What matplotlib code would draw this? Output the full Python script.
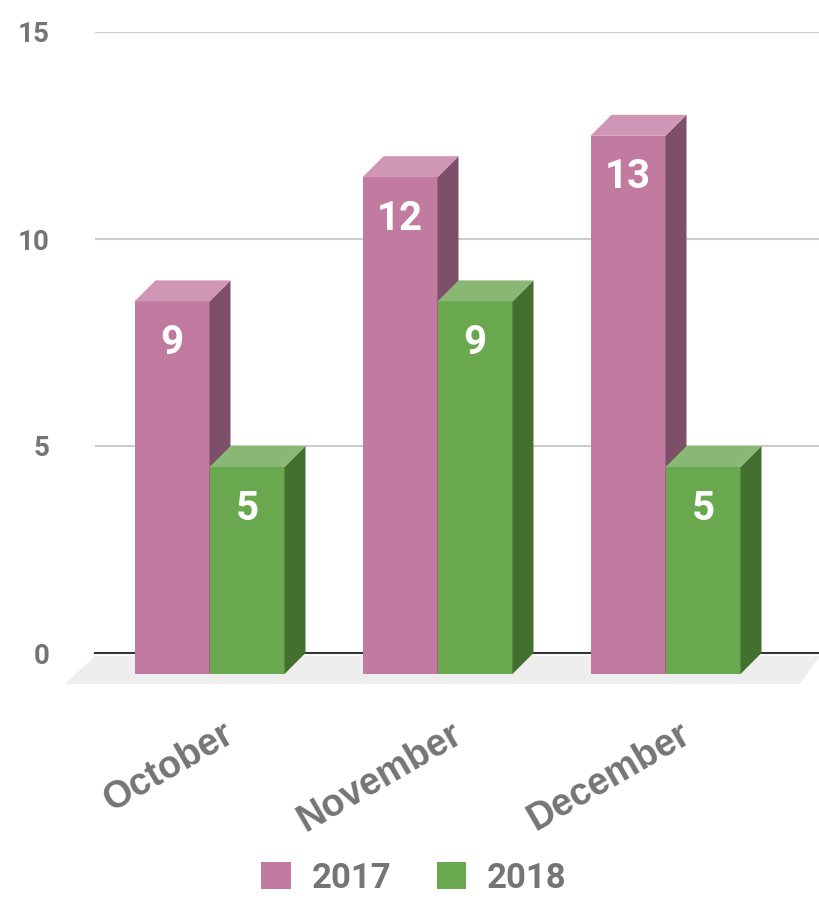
import matplotlib
matplotlib.use("Agg")
import matplotlib.pyplot as plt
from matplotlib.patches import Polygon, Patch

# ===============================
# Data
# ===============================
months = ["October", "November", "December"]
series = ["2017", "2018"]
values_2017 = [9, 12, 13]
values_2018 = [5, 9, 5]
y_ticks = [0, 5, 10, 15]

# ===============================
# Style
# ===============================
front = {"2017": "#C27BA0", "2018": "#6AA84F"}
top = {"2017": "#D096B5", "2018": "#89B875"}
side = {"2017": "#7D4F68", "2018": "#44702F"}
GRAY = "#757575"

W, H = 819, 900
PX_X = 228.0          # pixels per category
PX_Y = 41.4           # pixels per unit
BAR_W = 75 / PX_X
DX = 21 / PX_X        # depth offset (x, data units)
DY = 21 / PX_Y        # depth offset (y, data units)

fig = plt.figure(figsize=(W / 100, H / 100), dpi=100)
ax = fig.add_axes([95 / W, 1 - 653 / H, 725 / W, (653 - 32) / H])
# front face centre of group i sits at 209.5 + 228*i px
ax.set_xlim((95 - 209.5) / PX_X, (820 - 209.5) / PX_X)
ax.set_ylim(0, 15)

for s in ax.spines.values():
    s.set_visible(False)
ax.set_xticks([])
ax.set_yticks(y_ticks)
ax.set_yticklabels([str(t) for t in y_ticks], fontfamily="Roboto",
                   fontweight="bold", fontsize=20, color=GRAY)
ax.tick_params(axis="y", length=0, pad=33)
for t in y_ticks[1:]:
    ax.axhline(t, color="#CCCCCC", lw=1.5, zorder=1)

# floor
x_lo, x_hi = ax.get_xlim()
floor = Polygon([(x_lo, -0.07), (x_hi, -0.07),
                 (x_hi - 20 / PX_X, -31 / PX_Y), (x_lo - 30 / PX_X, -31 / PX_Y)],
                closed=True, facecolor="#EEEEEE", edgecolor="none",
                clip_on=False, zorder=0)
ax.add_patch(floor)
ax.axhline(0, color="#333333", lw=1.5, zorder=2, clip_on=False)


def bar3d(x0, v, key, z):
    # front face is shifted left / down from the back plane
    fx0, fx1 = x0, x0 + BAR_W
    fy0, fy1 = -DY, v - DY
    faces = [
        ([(fx0, fy0), (fx1, fy0), (fx1, fy1), (fx0, fy1)], front[key]),
        ([(fx1, fy0), (fx1 + DX, fy0 + DY), (fx1 + DX, fy1 + DY), (fx1, fy1)], side[key]),
        ([(fx0, fy1), (fx1, fy1), (fx1 + DX, fy1 + DY), (fx0 + DX, fy1 + DY)], top[key]),
    ]
    for pts, c in faces:
        ax.add_patch(Polygon(pts, closed=True, facecolor=c, edgecolor="none",
                             clip_on=False, zorder=z))
    ax.annotate(str(v), xy=(x0 + BAR_W / 2, fy1), xytext=(0, -30),
                textcoords="offset points", ha="center", va="center",
                color="white", fontsize=29, fontweight="bold",
                fontfamily="Roboto", zorder=z + 1)


for i in range(len(months)):
    bar3d(i - BAR_W, values_2017[i], "2017", 3)
    bar3d(i, values_2018[i], "2018", 5)

# month labels
for i, m in enumerate(months):
    ax.text(i + 13 / PX_X, -63 / PX_Y, m, rotation=30, rotation_mode="anchor",
            ha="right", va="top", fontsize=27, fontweight="bold",
            fontfamily="Liberation Sans", color=GRAY, clip_on=False)

handles = [Patch(facecolor=front[s], edgecolor="none") for s in series]
leg = fig.legend(handles, series, loc="center", bbox_to_anchor=(414 / W, 1 - 878 / H),
                 ncol=2, frameon=False, handlelength=0.85, handleheight=0.85,
                 handletextpad=0.6, columnspacing=1.3,
                 prop={"family": "Roboto", "weight": "bold", "size": 25})
for t in leg.get_texts():
    t.set_color(GRAY)

fig.savefig("out.png", dpi=100)
